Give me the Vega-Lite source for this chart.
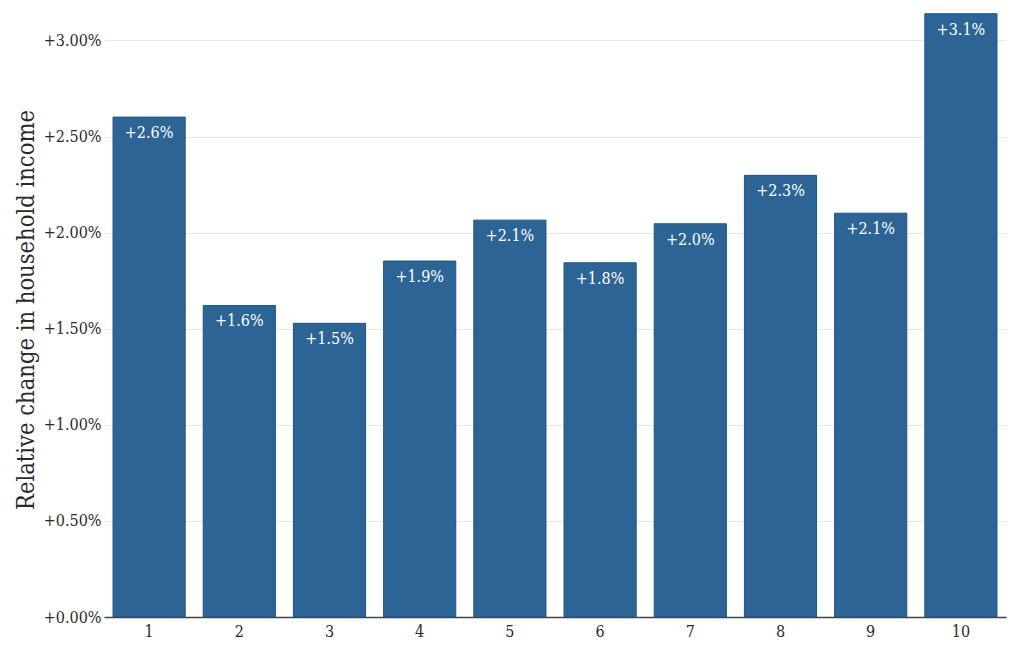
{
  "$schema": "https://vega.github.io/schema/vega-lite/v6.json",
  "autosize": {"type": "none"},
  "padding": {"left": 104, "top": 2, "right": 18, "bottom": 40},
  "width": 902,
  "height": 615,
  "background": "white",
  "config": {
    "font": "DejaVu Serif Condensed",
    "view": {"stroke": null}
  },
  "data": {
    "values": [
      {"decile": "1", "change": 0.02601},
      {"decile": "2", "change": 0.01621},
      {"decile": "3", "change": 0.01528},
      {"decile": "4", "change": 0.01852},
      {"decile": "5", "change": 0.02065},
      {"decile": "6", "change": 0.01843},
      {"decile": "7", "change": 0.02046},
      {"decile": "8", "change": 0.02298},
      {"decile": "9", "change": 0.02101},
      {"decile": "10", "change": 0.03139}
    ]
  },
  "encoding": {
    "x": {
      "field": "decile",
      "type": "ordinal",
      "sort": null,
      "scale": {"paddingInner": 0.2, "paddingOuter": 0.1},
      "axis": {
        "title": null,
        "labelAngle": 0,
        "labelFont": "DejaVu Serif Condensed",
        "labelFontSize": 16,
        "labelColor": "#2a2a2a",
        "labelPadding": 6,
        "ticks": false,
        "domainColor": "#444444",
        "domainWidth": 1.3,
        "grid": false
      }
    },
    "y": {
      "field": "change",
      "type": "quantitative",
      "scale": {"domain": [0, 0.032], "nice": false},
      "axis": {
        "title": "Relative change in household income",
        "titleFont": "DejaVu Serif Condensed",
        "titleFontSize": 23.5,
        "titleFontWeight": "normal",
        "titleColor": "#2a2a2a",
        "titlePadding": 5,
        "values": [0, 0.005, 0.01, 0.015, 0.02, 0.025, 0.03],
        "format": "+.2%",
        "labelFont": "DejaVu Serif Condensed",
        "labelFontSize": 16,
        "labelColor": "#2a2a2a",
        "labelPadding": 3,
        "ticks": false,
        "domain": false,
        "grid": true,
        "gridColor": "#e8e8e8",
        "gridWidth": 1
      }
    }
  },
  "layer": [
    {
      "mark": {"type": "bar", "color": "#2d6496", "stroke": "#1d5489", "strokeWidth": 1}
    },
    {
      "mark": {
        "type": "text",
        "color": "white",
        "font": "DejaVu Serif Condensed",
        "fontSize": 16,
        "baseline": "alphabetic",
        "align": "center",
        "dy": 21
      },
      "encoding": {
        "text": {"field": "change", "type": "quantitative", "format": "+.1%"}
      }
    }
  ]
}
